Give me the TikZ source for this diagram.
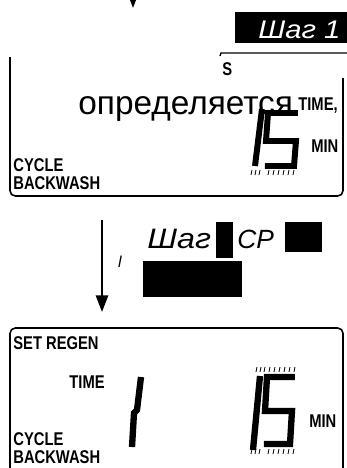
\documentclass[tikz,border=0pt]{standalone}
\usepackage{fontspec}
\setmainfont{Liberation Sans}
\newfontfamily\lcdfont[FakeStretch=0.8]{Liberation Sans}
\newfontfamily\titlefont[FakeStretch=1.15]{Liberation Sans}
\usetikzlibrary{arrows.meta}

\begin{document}
\begin{tikzpicture}[
    x=0.02cm, y=-0.02cm,
    lcdlabel/.style={inner sep=0, font=\lcdfont\bfseries\fontsize{10.5}{10}\selectfont, align=left},
    steptitle/.style={inner sep=0, font=\titlefont\itshape\fontsize{16}{18}\selectfont},
    lcdframe/.style={line width=0.9pt, rounded corners=3pt},
    seg/.style={line width=3.4pt, line join=miter},
    segtick/.style={line width=0.5pt},
    flow/.style={-{Triangle[width=7pt,length=9.5pt]}, line width=1.1pt}
]

% Picture frame
\useasboundingbox (0,0) rectangle (347,468);
\clip (0,0) rectangle (347,468);

% Arrow coming in from above
\coordinate (topin) at (133,-30);
\coordinate (topout) at (133,8);
\draw[flow] (topin) -- (topout);

% Step 1 title
\fill (235,12) rectangle (347,43);
\node[steptitle, font=\titlefont\itshape\fontsize{14.5}{16}\selectfont, white, anchor=base west] (step1) at (258,38) {Шаг 1};

% Upper display
\draw[line width=0.8pt] (220,56) -- (221,53) -- (347,53);
\node[lcdlabel, anchor=base west] (sflag) at (222,75) {S};
\draw[lcdframe] (10,57) -- (10,196) -- (343,196) -- (343,78);
\node[anchor=base west, inner sep=0, font=\fontsize{19}{21}\selectfont] (hint) at (78,114) {определяется};
\node[lcdlabel, anchor=base west] (time1) at (298,110) {TIME,};
\node[lcdlabel, anchor=base west] (min1) at (311,152) {MIN};
\node[lcdlabel, anchor=base west] (cycle1) at (13,189) {CYCLE\\BACKWASH};

% Upper digits 15
\draw[seg] (262,109) -- (255,166);
\draw[seg] (298,113) -- (268,113) -- (266,141) -- (296,141) -- (294,166) -- (265,166);
\foreach \x in {252,256,260,269,274,279,284,289,294}
    \draw[segtick] (\x,170) -- ++(-1,5);

% Step CP title
\node[steptitle, anchor=base west] (step2) at (147,248) {Шаг};
\fill (216,222) rectangle (233,258);
\node[steptitle, font=\itshape\fontsize{15}{17}\selectfont, anchor=base west] (cp) at (237,248) {CP};
\fill (285,222) rectangle (322,252);
\fill (143,261) rectangle (242,297);

% Arrow between displays
\coordinate (midin) at (102,220);
\coordinate (midout) at (102,312);
\draw[flow] (midin) -- (midout);
\node[inner sep=0, font=\itshape\fontsize{9}{9}\selectfont] (lmark) at (120,262) {l};

% Lower display
\draw[lcdframe] (10,470) -- (10,328) -- (343,328) -- (343,470);
\node[lcdlabel, anchor=base west] (setregen) at (13,349) {SET REGEN};
\node[lcdlabel, anchor=base east] (time2) at (105,388) {TIME};
\node[lcdlabel, anchor=base west] (min2) at (309,427) {MIN};
\node[lcdlabel, anchor=base west] (cycle2) at (13,463) {CYCLE\\BACKWASH};

% Lower digits 1 and 15
\draw[seg, line width=3.6pt] (141,377) -- (137,410) -- (134,413) -- (132,447);
\draw[seg, line width=3.6pt] (260,376) -- (253,450);
\draw[seg, line width=3.6pt] (295,377) -- (267,377) -- (265,411) -- (292,411) -- (290,444) -- (264,444);
\foreach \x in {257,261,265,270,275,280,285,290,295}
    \draw[segtick] (\x,367) -- ++(-1,5);
\foreach \x in {252,256,260,269,274,279,284,289,294}
    \draw[segtick] (\x,449) -- ++(-1,5);

\end{tikzpicture}
\end{document}
